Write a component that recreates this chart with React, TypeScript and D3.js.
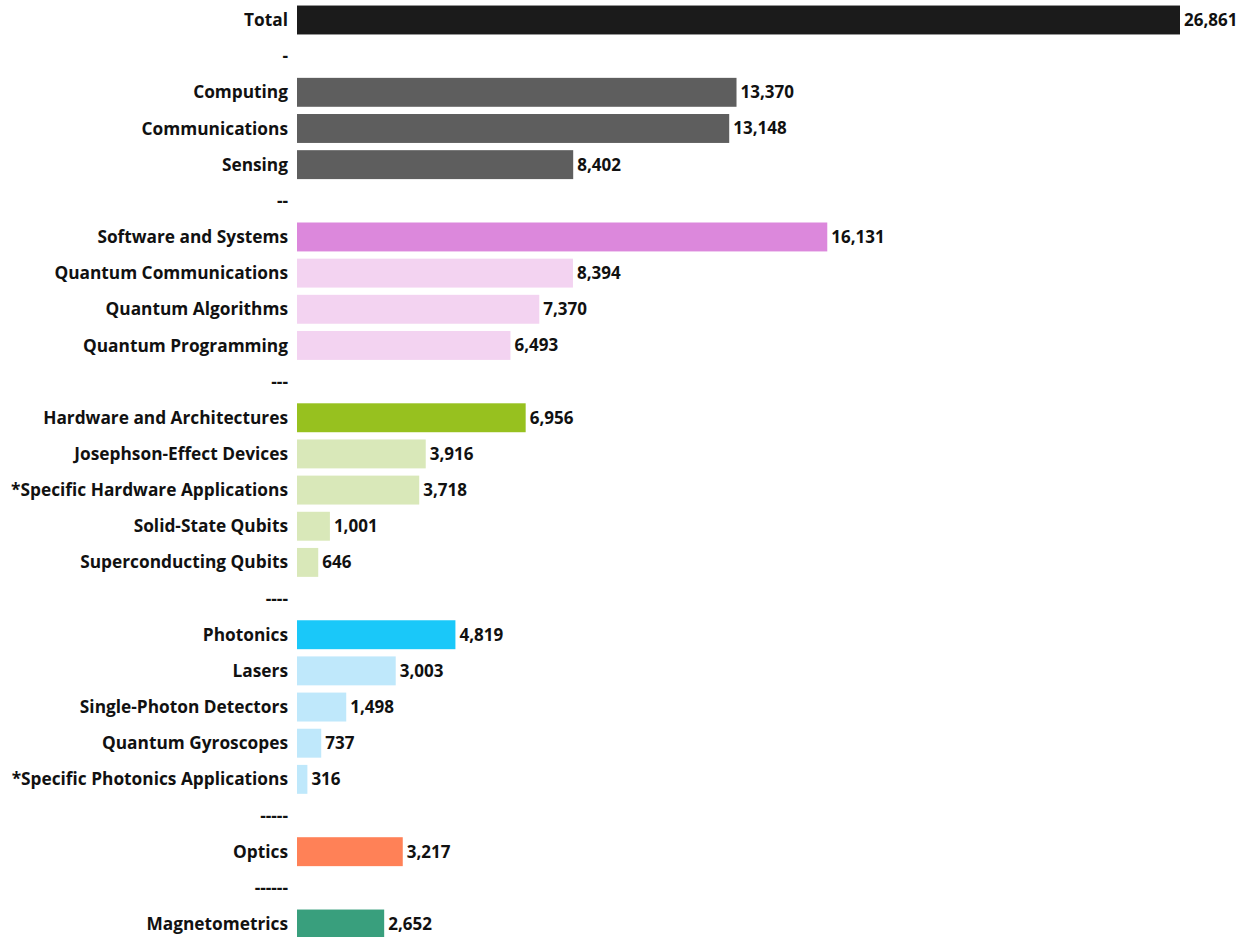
import * as d3 from "d3"
import { useRef, useEffect } from "react"

// rows top to bottom; dashes are the spacer rows between groups
const categories = [
  "Total", "-",
  "Computing", "Communications", "Sensing", "--",
  "Software and Systems", "Quantum Communications", "Quantum Algorithms", "Quantum Programming", "---",
  "Hardware and Architectures", "Josephson-Effect Devices", "*Specific Hardware Applications", "Solid-State Qubits", "Superconducting Qubits", "----",
  "Photonics", "Lasers", "Single-Photon Detectors", "Quantum Gyroscopes", "*Specific Photonics Applications", "-----",
  "Optics", "------",
  "Magnetometrics",
]
const values: (number | null)[] = [
  26861, null,
  13370, 13148, 8402, null,
  16131, 8394, 7370, 6493, null,
  6956, 3916, 3718, 1001, 646, null,
  4819, 3003, 1498, 737, 316, null,
  3217, null,
  2652,
]
const colorKeys = [
  "total", "",
  "field", "field", "field", "",
  "swHead", "sw", "sw", "sw", "",
  "hwHead", "hw", "hw", "hw", "hw", "",
  "phHead", "ph", "ph", "ph", "ph", "",
  "optics", "",
  "magneto",
]

const palette: Record<string, string> = {
  total: "#1b1b1b",
  field: "#5e5e5e",
  swHead: "#dc88dc",
  sw: "#f3d3f1",
  hwHead: "#97c11f",
  hw: "#d9e8b9",
  phHead: "#1ac8f9",
  ph: "#bfe8fb",
  optics: "#ff8157",
  magneto: "#399f7d",
}

export default function App() {
  const svgRef = useRef<SVGSVGElement>(null)

  useEffect(() => {
    if (!svgRef.current) return
    const width = 1250
    const height = 937
    const left = 297
    const font = "'Open Sans', Lato, sans-serif"

    const svg = d3.select(svgRef.current)
    svg.selectAll("*").remove()
    svg.attr("width", width).attr("height", height).attr("viewBox", `0 0 ${width} ${height}`)

    const rows = categories.map((c, i) => ({ cat: c, value: values[i], key: colorKeys[i] }))

    const step = 36.16
    const y = d3
      .scaleBand()
      .domain(categories)
      .range([20 - step / 2, 20 - step / 2 + step * categories.length])
      .paddingInner(0.2)
      .paddingOuter(0.1)

    const x = d3.scaleLinear().domain([0, 26861]).range([left, 1180])

    svg
      .append("g")
      .attr("transform", `translate(${left - 9},0)`)
      .call(d3.axisLeft(y).tickSize(0).tickPadding(0))
      .call((g) => g.select(".domain").remove())
      .call((g) =>
        g
          .selectAll("text")
          .style("font-family", font)
          .style("font-weight", "700")
          .style("font-size", "17.3px")
          .style("fill", "#111")
          .attr("dy", "0.35em"),
      )

    const bars = rows.filter((d) => d.value != null)

    svg
      .append("g")
      .selectAll("rect")
      .data(bars)
      .enter()
      .append("rect")
      .attr("x", x(0))
      .attr("y", (d) => y(d.cat)!)
      .attr("width", (d) => x(d.value as number) - x(0))
      .attr("height", y.bandwidth())
      .attr("fill", (d) => palette[d.key])

    const fmt = d3.format(",")
    svg
      .append("g")
      .selectAll("text")
      .data(bars)
      .enter()
      .append("text")
      .attr("x", (d) => x(d.value as number) + 4)
      .attr("y", (d) => y(d.cat)! + y.bandwidth() / 2)
      .attr("dy", "0.35em")
      .text((d) => fmt(d.value as number))
      .style("font-family", font)
      .style("font-weight", "700")
      .style("font-size", "17px")
      .style("fill", "#111")
      .style("paint-order", "stroke")
      .style("stroke", "#fff")
      .style("stroke-width", "3px")
  }, [])

  return (
    <div style={{ position: "absolute", left: 0, top: 0 }}>
      <svg ref={svgRef}></svg>
    </div>
  )
}
